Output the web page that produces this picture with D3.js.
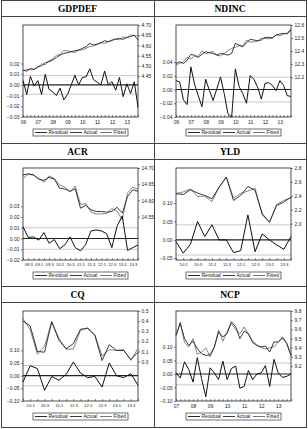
<!DOCTYPE html>
<html>
<head>
<meta charset="utf-8">
<script src="https://cdn.jsdelivr.net/npm/d3@7/dist/d3.min.js"></script>
<style>
  body { margin: 0; background: #fff; }
  svg { display: block; }
</style>
</head>
<body>
<svg id="chart" width="308" height="429"></svg>
<script>
// ---- data: residual / actual / fitted per equation ----
const titles = ['GDPDEF', 'NDINC', 'ACR', 'YLD', 'CQ', 'NCP'];
const legendNames = ['Residual', 'Actual', 'Fitted'];

const gdpdefResidual = [0.004,-0.009,0.008,-0.001,0.004,-0.009,0.010,-0.004,-0.0065,-0.010,-0.003,-0.014,-0.009,0,0.009,0,0.007,0.0075,0.015,0.005,0.0025,0,0.013,0,0.003,-0.005,0.007,-0.011,0.001,-0.008,0.003,-0.021];
const gdpdefActual = [4.479,4.4745,4.4876,4.4827,4.4957,4.5007,4.5154,4.5203,4.5284,4.5415,4.5529,4.5611,4.5644,4.5693,4.5742,4.5775,4.5856,4.5938,4.6101,4.602,4.6069,4.6134,4.6232,4.6183,4.6265,4.6297,4.6346,4.6297,4.6395,4.6428,4.651,4.6265];
const gdpdefFitted = [4.475,4.4835,4.4796,4.4837,4.4917,4.5097,4.5054,4.5243,4.5349,4.5515,4.5559,4.5751,4.5734,4.5693,4.5652,4.5775,4.5786,4.5863,4.5951,4.597,4.6044,4.6134,4.6102,4.6183,4.6235,4.6347,4.6276,4.6407,4.6385,4.6508,4.648,4.6475];
const gdpdefXTicks = ['06','07','08','09','10','11','12','13'];
const gdpdefLeftTicks = [-0.03,-0.02,-0.01,0.00,0.01,0.02];
const gdpdefRightTicks = [4.45,4.50,4.55,4.60,4.65,4.70];

const ndincResidual = [0.013,0.011,-0.015,-0.022,0.033,0.008,-0.009,-0.025,0.015,-0.0015,-0.016,0.001,0.0185,-0.006,-0.035,-0.04,0.030,0.0045,-0.006,-0.020,0.0205,0.015,0.0035,-0.014,0.009,0.010,0.006,-0.0015,0.013,0.006,-0.009,-0.010];
const ndincActual = [12.305,12.318,12.305,12.331,12.374,12.369,12.351,12.377,12.395,12.387,12.382,12.369,12.382,12.377,12.369,12.382,12.459,12.446,12.433,12.464,12.490,12.485,12.479,12.485,12.505,12.505,12.503,12.523,12.531,12.536,12.531,12.562];
const ndincFitted = [12.292,12.307,12.320,12.353,12.341,12.361,12.360,12.402,12.380,12.389,12.398,12.368,12.364,12.383,12.404,12.422,12.429,12.442,12.439,12.484,12.470,12.470,12.476,12.499,12.496,12.495,12.497,12.525,12.518,12.530,12.540,12.572];
const ndincXTicks = ['06','07','08','09','10','11','12','13'];
const ndincLeftTicks = [-0.04,-0.02,0.00,0.02,0.04];
const ndincRightTicks = [12.2,12.3,12.4,12.5,12.6];

const acrResidual = [0.011,0.001,0.0015,-0.0015,0.0055,-0.0045,-0.001,-0.0095,-0.006,0.0015,-0.0085,-0.0115,-0.0055,0.007,0.008,0.007,0.0045,-0.0085,0.0115,0.021,-0.011,-0.0085,-0.006];
const acrActual = [14.679,14.682,14.679,14.666,14.662,14.671,14.666,14.638,14.635,14.628,14.636,14.576,14.585,14.571,14.566,14.566,14.564,14.566,14.579,14.561,14.612,14.633,14.628];
const acrFitted = [14.668,14.681,14.6775,14.6675,14.6565,14.6755,14.667,14.6475,14.641,14.6265,14.6445,14.5875,14.5905,14.564,14.558,14.559,14.5595,14.5745,14.5675,14.540,14.623,14.6415,14.634];
const acrXTicks = ['08:3','09:1','09:3','10:1','10:3','11:1','11:3','12:1','12:3','13:1','13:3'];
const acrLeftTicks = [-0.02,-0.01,0.00,0.01,0.02,0.03];
const acrRightTicks = [14.55,14.60,14.65,14.70];

const yldResidual = [-0.0045,-0.036,-0.012,0.050,0.009,0.041,0.000,0.000,-0.0345,-0.029,0.068,-0.032,0.0165,0.000,-0.0135,-0.0255,0.009];
const yldActual = [2.429,2.419,2.487,2.439,2.405,2.357,2.525,2.670,2.333,2.405,2.535,2.477,2.140,2.019,2.260,2.308,2.381];
const yldFitted = [2.4335,2.455,2.499,2.389,2.396,2.316,2.525,2.670,2.3675,2.434,2.467,2.509,2.1235,2.019,2.2735,2.3335,2.372];
const yldXTicks = ['10:1','10:3','11:1','11:3','12:1','12:3','13:1','13:3'];
const yldLeftTicks = [-0.05,0.00,0.05,0.10];
const yldRightTicks = [2.0,2.2,2.4,2.6,2.8];

const cqResidual = [-0.025,0.039,0.028,-0.058,-0.003,-0.018,0.005,0.054,0.0105,-0.008,-0.003,-0.045,0.050,0.000,-0.008,0.008,-0.038];
const cqActual = [0.400,0.353,0.100,0.093,0.393,0.210,0.127,0.177,0.320,0.327,0.260,0.010,0.167,0.110,0.110,0.020,0.093];
const cqFitted = [0.425,0.314,0.072,0.151,0.396,0.228,0.122,0.123,0.3095,0.335,0.263,0.055,0.117,0.110,0.118,0.012,0.131];
const cqXTicks = ['10:1','10:3','11:1','11:3','12:1','12:3','13:1','13:3'];
const cqLeftTicks = [-0.10,-0.05,0.00,0.05,0.10];
const cqRightTicks = [0.0,0.1,0.2,0.3,0.4,0.5];

const ncpResidual = [0.004,-0.015,0.045,0.016,-0.030,0.060,-0.0175,-0.084,0.0225,0.004,-0.021,0.0475,-0.021,0.020,0.029,-0.0525,-0.046,0.0125,-0.021,0.000,0.004,0.031,-0.046,0.054,0.004,-0.0125,-0.009,0.000];
const ncpActual = [9.536,9.664,9.500,9.426,9.470,9.390,9.335,9.316,9.324,9.408,9.573,9.518,9.555,9.683,9.628,9.500,9.580,9.555,9.456,9.426,9.408,9.419,9.353,9.463,9.463,9.507,9.445,9.316];
const ncpFitted = [9.532,9.679,9.455,9.410,9.500,9.330,9.3525,9.400,9.3015,9.404,9.594,9.4705,9.576,9.663,9.599,9.5525,9.626,9.5425,9.477,9.426,9.404,9.388,9.399,9.409,9.459,9.5195,9.454,9.316];
const ncpXTicks = ['07','08','09','10','11','12','13'];
const ncpLeftTicks = [-0.10,-0.05,0.00,0.05,0.10];
const ncpRightTicks = [9.2,9.3,9.4,9.5,9.6,9.7,9.8];

// ---- panel settings (scales, first quarter, S.E. band) ----
const panels = [
  { title: titles[0], start: [2006, 1], res: gdpdefResidual, act: gdpdefActual, fit: gdpdefFitted,
    xTicks: gdpdefXTicks, lTicks: gdpdefLeftTicks, rTicks: gdpdefRightTicks,
    resDomain: [-0.03, 0.056], actDomain: [4.25, 4.70], se: 0.0087, lFmt: '.2f', rFmt: '.2f' },
  { title: titles[1], start: [2006, 1], res: ndincResidual, act: ndincActual, fit: ndincFitted,
    xTicks: ndincXTicks, lTicks: ndincLeftTicks, rTicks: ndincRightTicks,
    resDomain: [-0.04, 0.094], actDomain: [11.895, 12.6], se: 0.018, lFmt: '.2f', rFmt: '.1f' },
  { title: titles[2], start: [2008, 2], res: acrResidual, act: acrActual, fit: acrFitted,
    xTicks: acrXTicks, lTicks: acrLeftTicks, rTicks: acrRightTicks,
    resDomain: [-0.02, 0.0656], actDomain: [14.4165, 14.70], se: 0.010, lFmt: '.2f', rFmt: '.2f' },
  { title: titles[3], start: [2009, 4], res: yldResidual, act: yldActual, fit: yldFitted,
    xTicks: yldXTicks, lTicks: yldLeftTicks, rTicks: yldRightTicks,
    resDomain: [-0.0545, 0.195], actDomain: [1.475, 2.8], se: 0.041, lFmt: '.2f', rFmt: '.1f' },
  { title: titles[4], start: [2009, 4], res: cqResidual, act: cqActual, fit: cqFitted,
    xTicks: cqXTicks, lTicks: cqLeftTicks, rTicks: cqRightTicks,
    resDomain: [-0.10, 0.255], actDomain: [-0.39, 0.5], se: 0.04, lFmt: '.2f', rFmt: '.1f' },
  { title: titles[5], start: [2007, 1], res: ncpResidual, act: ncpActual, fit: ncpFitted,
    xTicks: ncpXTicks, lTicks: ncpLeftTicks, rTicks: ncpRightTicks,
    resDomain: [-0.10, 0.2325], actDomain: [8.82, 9.8], se: 0.04, lFmt: '.2f', rFmt: '.1f' }
];

const colX = [1, 154, 306];
const rowY = [0, 143, 286, 427];
const frameColor = '#444';
const tickFont = '"Liberation Sans", Arial, sans-serif';

const svg = d3.select('#chart');

// outer frame
svg.append('rect')
  .attr('x', colX[0] + 0.5).attr('y', rowY[0] + 0.5)
  .attr('width', colX[2] - colX[0]).attr('height', rowY[3] - rowY[0])
  .attr('fill', 'none').attr('stroke', frameColor);

// index of a tick label like '07' or '10:3' inside the quarter series
function tickIndex(label, start) {
  const parts = label.split(':');
  const year = 2000 + (+parts[0]);
  const q = parts.length > 1 ? +parts[1] : 1;
  return (year - start[0]) * 4 + (q - start[1]);
}

panels.forEach((p, i) => {
  const col = i % 2, row = Math.floor(i / 2);
  const x0 = colX[col], x1 = colX[col + 1];
  const y0 = rowY[row], y1 = rowY[row + 1];

  const g = svg.append('g').attr('class', 'panel');

  // cell borders
  g.append('line')
    .attr('x1', x0).attr('x2', x1)
    .attr('y1', y0 + 16.5).attr('y2', y0 + 16.5)
    .attr('stroke', frameColor);
  if (col === 1) {
    g.append('line')
      .attr('x1', x0 + 0.5).attr('x2', x0 + 0.5)
      .attr('y1', y0).attr('y2', y1)
      .attr('stroke', frameColor);
  }
  if (row > 0) {
    g.append('line')
      .attr('x1', x0).attr('x2', x1)
      .attr('y1', y0 + 0.5).attr('y2', y0 + 0.5)
      .attr('stroke', frameColor);
  }

  g.append('text')
    .attr('x', (x0 + x1) / 2).attr('y', y0 + 12)
    .attr('text-anchor', 'middle')
    .style('font-family', '"Liberation Serif", "Times New Roman", serif')
    .style('font-weight', 'bold')
    .style('font-size', '9.5px')
    .text(p.title);

  const left = x0 + 22, right = x0 + 137;
  const top = y0 + 25, bottom = y1 - 26;

  const n = p.res.length;
  const x = d3.scaleLinear().domain([0, n - 1]).range([left, right]);
  const yRes = d3.scaleLinear().domain(p.resDomain).range([bottom, top]);
  const yAct = d3.scaleLinear().domain(p.actDomain).range([bottom, top]);

  // S.E. band lines and zero line
  [p.se, -p.se].forEach(v => {
    g.append('line')
      .attr('x1', left).attr('x2', right)
      .attr('y1', yRes(v)).attr('y2', yRes(v))
      .attr('stroke', '#bbb').attr('stroke-width', 0.8);
  });
  g.append('line')
    .attr('x1', left).attr('x2', right)
    .attr('y1', yRes(0)).attr('y2', yRes(0))
    .attr('stroke', '#222').attr('stroke-width', 1.1);

  // axes
  const leftAxis = d3.axisLeft(yRes).tickValues(p.lTicks)
    .tickFormat(d3.format(p.lFmt)).tickSize(2).tickPadding(1.5);
  const rightAxis = d3.axisRight(yAct).tickValues(p.rTicks)
    .tickFormat(d3.format(p.rFmt)).tickSize(2).tickPadding(1.5);
  const xLabelIdx = p.xTicks.map(t => tickIndex(t, p.start));
  const bottomAxis = d3.axisBottom(x).tickValues(d3.range(n))
    .tickFormat(d => {
      const k = xLabelIdx.indexOf(d);
      return k >= 0 ? p.xTicks[k] : '';
    })
    .tickSizeInner(-2).tickSizeOuter(0).tickPadding(3);

  const axes = [
    g.append('g').attr('transform', `translate(${left},0)`).call(leftAxis),
    g.append('g').attr('transform', `translate(${right},0)`).call(rightAxis),
    g.append('g').attr('transform', `translate(0,${bottom})`).call(bottomAxis)
  ];
  axes.forEach((a, k) => {
    a.select('.domain').remove();
    a.selectAll('line').attr('stroke', '#333').attr('stroke-width', 0.6);
    const quarterLabels = k === 2 && p.xTicks[0].includes(':');
    a.selectAll('text')
      .style('font-family', tickFont)
      .style('font-size', quarterLabels ? '4.2px' : '5px')
      .attr('fill', '#222');
  });

  // plot frame
  g.append('rect')
    .attr('x', left).attr('y', top)
    .attr('width', right - left).attr('height', bottom - top)
    .attr('fill', 'none').attr('stroke', '#222').attr('stroke-width', 0.8);

  // series
  const resLine = d3.line().x((d, k) => x(k)).y(d => yRes(d));
  const actLine = d3.line().x((d, k) => x(k)).y(d => yAct(d));
  g.append('path').datum(p.fit).attr('d', actLine)
    .attr('fill', 'none').attr('stroke', '#666').attr('stroke-width', 0.8);
  g.append('path').datum(p.act).attr('d', actLine)
    .attr('fill', 'none').attr('stroke', '#222').attr('stroke-width', 0.9);
  g.append('path').datum(p.res).attr('d', resLine)
    .attr('fill', 'none').attr('stroke', '#111').attr('stroke-width', 1);

  // legend
  const lw = 95, lx = (left + right) / 2 - lw / 2, ly = y1 - 14;
  const lg = g.append('g').attr('transform', `translate(${lx},${ly})`);
  lg.append('rect').attr('width', lw).attr('height', 7)
    .attr('fill', '#fff').attr('stroke', '#333').attr('stroke-width', 0.7);
  const itemX = [2, 37, 67];
  const itemColor = ['#111', '#222', '#666'];
  legendNames.forEach((name, k) => {
    lg.append('line')
      .attr('x1', itemX[k]).attr('x2', itemX[k] + 12)
      .attr('y1', 3.5).attr('y2', 3.5)
      .attr('stroke', itemColor[k]).attr('stroke-width', 0.9);
    lg.append('text')
      .attr('x', itemX[k] + 13.5).attr('y', 5.3)
      .style('font-family', tickFont)
      .style('font-size', '5px')
      .attr('fill', '#222')
      .text(name);
  });
});
</script>
</body>
</html>
